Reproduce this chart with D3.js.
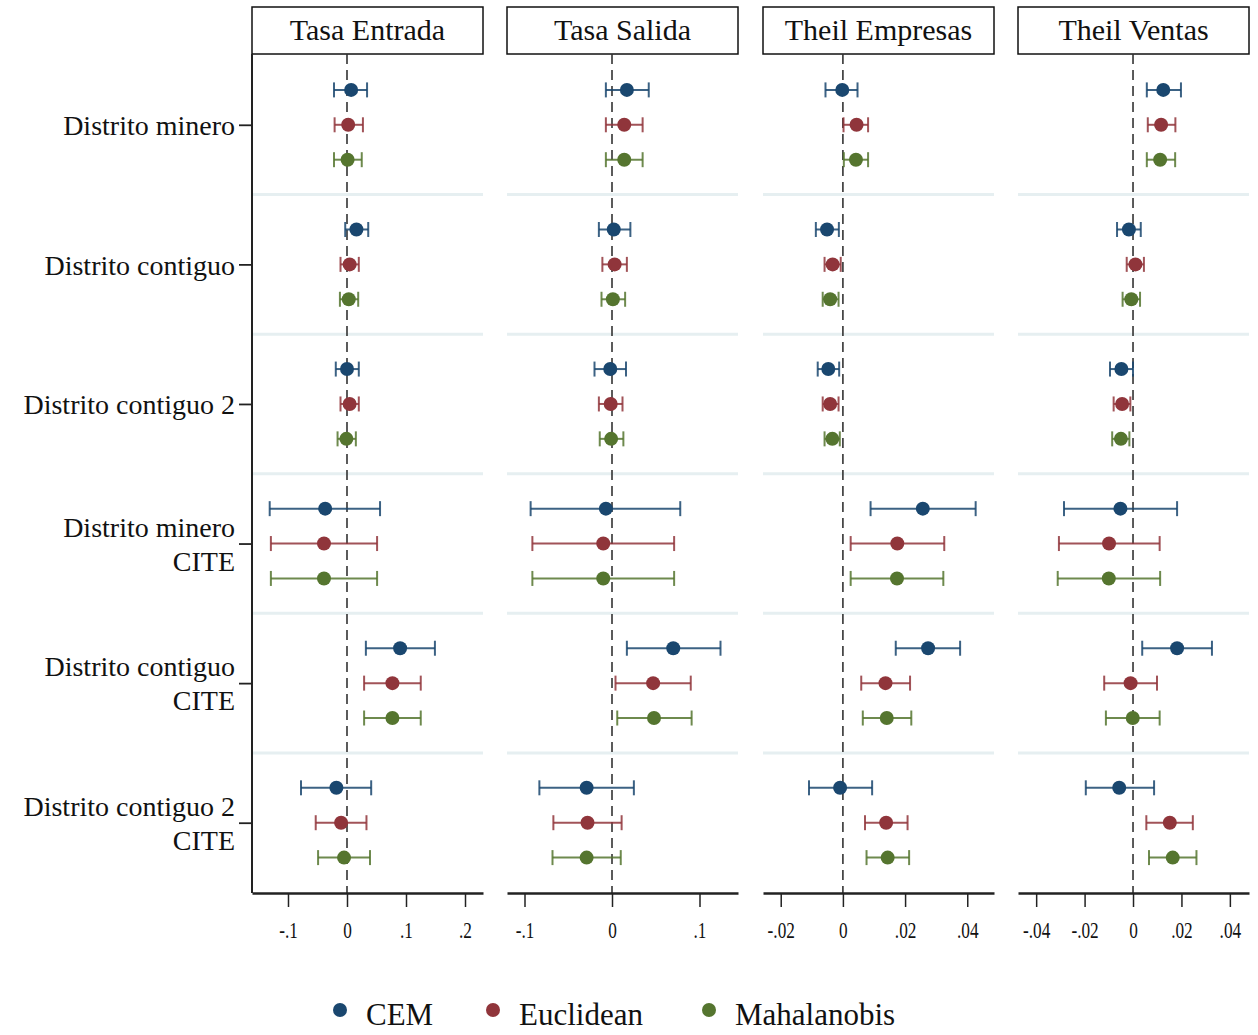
<!DOCTYPE html>
<html lang="es">
<head>
<meta charset="UTF-8">
<script src="https://cdn.jsdelivr.net/npm/d3@7"></script>
<title>Coeficientes</title>
<style>
    body { margin: 0; background: #fff; }
    text { font-family: "Liberation Serif", "Times New Roman", serif; fill: #111; }
</style>
</head>
<body>
<div id="viz"></div>
<script>
// categories
const groups = [
    ["Distrito minero"],
    ["Distrito contiguo"],
    ["Distrito contiguo 2"],
    ["Distrito minero", "CITE"],
    ["Distrito contiguo", "CITE"],
    ["Distrito contiguo 2", "CITE"]
]
const methods = ["CEM", "Euclidean", "Mahalanobis"]
const titles = ["Tasa Entrada", "Tasa Salida", "Theil Empresas", "Theil Ventas"]

// estimates: rows = groups, columns = CEM, Euclidean, Mahalanobis
const entradaEst = [[0.007, 0.002, 0.001], [0.016, 0.0045, 0.003], [0.000, 0.0045, -0.001],
                    [-0.037, -0.039, -0.039], [0.090, 0.077, 0.077], [-0.018, -0.010, -0.005]]
const entradaLo  = [[-0.022, -0.021, -0.022], [-0.003, -0.011, -0.012], [-0.019, -0.011, -0.016],
                    [-0.131, -0.129, -0.129], [0.032, 0.029, 0.029], [-0.078, -0.053, -0.049]]
const entradaHi  = [[0.034, 0.027, 0.025], [0.036, 0.020, 0.019], [0.020, 0.020, 0.015],
                    [0.056, 0.051, 0.051], [0.149, 0.125, 0.125], [0.041, 0.033, 0.039]]

const salidaEst = [[0.017, 0.014, 0.014], [0.002, 0.003, 0.001], [-0.002, -0.0015, -0.001],
                   [-0.007, -0.010, -0.010], [0.070, 0.047, 0.048], [-0.029, -0.028, -0.029]]
const salidaLo  = [[-0.007, -0.007, -0.007], [-0.015, -0.011, -0.012], [-0.020, -0.015, -0.014],
                   [-0.093, -0.091, -0.091], [0.017, 0.004, 0.006], [-0.083, -0.067, -0.068]]
const salidaHi  = [[0.042, 0.035, 0.035], [0.021, 0.017, 0.015], [0.016, 0.012, 0.013],
                   [0.078, 0.071, 0.071], [0.124, 0.090, 0.091], [0.025, 0.011, 0.010]]

const empresasEst = [[-0.0002, 0.0044, 0.0042], [-0.0051, -0.0033, -0.0041], [-0.0047, -0.0041, -0.0034],
                     [0.0257, 0.0175, 0.0174], [0.0274, 0.0137, 0.0141], [-0.0009, 0.0139, 0.0144]]
const empresasLo  = [[-0.0056, 0.0002, 0.0003], [-0.0087, -0.0059, -0.0065], [-0.0081, -0.0065, -0.0059],
                     [0.0089, 0.0025, 0.0025], [0.0170, 0.0059, 0.0064], [-0.0109, 0.0071, 0.0076]]
const empresasHi  = [[0.0047, 0.0081, 0.0081], [-0.0013, -0.0007, -0.0014], [-0.0012, -0.0014, -0.0010],
                     [0.0427, 0.0326, 0.0323], [0.0377, 0.0216, 0.0220], [0.0094, 0.0208, 0.0213]]

const ventasEst = [[0.0125, 0.0116, 0.0112], [-0.0017, 0.0010, -0.0007], [-0.0048, -0.0045, -0.0050],
                   [-0.0052, -0.0099, -0.0100], [0.0182, -0.0010, -0.0001], [-0.0057, 0.0152, 0.0164]]
const ventasLo  = [[0.0057, 0.0061, 0.0057], [-0.0066, -0.0026, -0.0043], [-0.0095, -0.0080, -0.0086],
                   [-0.0285, -0.0306, -0.0311], [0.0038, -0.0119, -0.0112], [-0.0195, 0.0055, 0.0066]]
const ventasHi  = [[0.0198, 0.0175, 0.0174], [0.0032, 0.0045, 0.0029], [0.0000, -0.0011, -0.0015],
                   [0.0182, 0.0110, 0.0112], [0.0326, 0.0099, 0.0110], [0.0087, 0.0247, 0.0262]]

// axis extents and ticks
const domains = [[-0.161, 0.2305], [-0.12, 0.144], [-0.0257, 0.0486], [-0.0475, 0.0479]]
const tickValues = [[-0.1, 0, 0.1, 0.2], [-0.1, 0, 0.1], [-0.02, 0, 0.02, 0.04], [-0.04, -0.02, 0, 0.02, 0.04]]
const tickLabels = [["-.1", "0", ".1", ".2"], ["-.1", "0", ".1"], ["-.02", "0", ".02", ".04"], ["-.04", "-.02", "0", ".02", ".04"]]

const panels = [
    {title: titles[0], est: entradaEst, lo: entradaLo, hi: entradaHi},
    {title: titles[1], est: salidaEst, lo: salidaLo, hi: salidaHi},
    {title: titles[2], est: empresasEst, lo: empresasLo, hi: empresasHi},
    {title: titles[3], est: ventasEst, lo: ventasLo, hi: ventasHi}
]

// layout
const width = 1258
const height = 1035
const panelLeft = [252, 507, 763, 1018]
const panelWidth = 231
const plotTop = 54
const plotBottom = 893
const legendX = [340, 493, 709]

const svg = d3.select("#viz")
    .append("svg")
    .attr("width", width)
    .attr("height", height)

// 4 slots per group: 3 estimates + 1 gap
const yScale = d3.scaleLinear()
    .domain([0, groups.length * 4])
    .range([plotTop + 1, plotBottom - 0.5])
const slot = d => d.gi * 4 + d.mi + 1

const color = d3.scaleOrdinal()
    .domain(methods)
    .range(["#1a476f", "#90353b", "#55752f"])

panels.forEach((p, i) => {
    const x0 = panelLeft[i]
    const x1 = x0 + panelWidth
    const xScale = d3.scaleLinear()
        .domain(domains[i])
        .range([x0, x1])
    const g = svg.append("g")

    // header box
    g.append("rect")
        .attr("x", x0)
        .attr("y", 7)
        .attr("width", panelWidth)
        .attr("height", plotTop - 7)
        .attr("fill", "white")
        .attr("stroke", "#111")
        .attr("stroke-width", 1.5)
    g.append("text")
        .attr("x", (x0 + x1) / 2)
        .attr("y", 40)
        .attr("text-anchor", "middle")
        .attr("font-size", 30)
        .text(p.title)

    // separators between groups
    g.selectAll(".sep")
        .data(d3.range(1, groups.length))
        .join("line")
        .attr("x1", x0)
        .attr("x2", x1)
        .attr("y1", d => yScale(d * 4))
        .attr("y2", d => yScale(d * 4))
        .attr("stroke", "#e6eff1")
        .attr("stroke-width", 3)

    // zero line
    g.append("line")
        .attr("x1", xScale(0))
        .attr("x2", xScale(0))
        .attr("y1", plotTop)
        .attr("y2", plotBottom)
        .attr("stroke", "#333")
        .attr("stroke-width", 1.6)
        .attr("stroke-dasharray", "10,6")

    // x axis
    const ticks = tickValues[i]
    const labels = tickLabels[i]
    const xAxis = g.append("g")
        .attr("transform", `translate(0,${plotBottom})`)
        .call(d3.axisBottom(xScale)
            .tickValues(ticks)
            .tickFormat(d => labels[ticks.indexOf(d)])
            .tickSize(14)
            .tickSizeOuter(0)
            .tickPadding(15))
    xAxis.select(".domain")
        .attr("stroke", "#222")
        .attr("stroke-width", 2.5)
    xAxis.selectAll(".tick line")
        .attr("stroke", "#222")
        .attr("stroke-width", 1.5)
    xAxis.selectAll(".tick text")
        .attr("font-size", 23)
        .attr("transform", "scale(0.75,1)")

    const rows = p.est.flatMap((r, gi) => r.map((v, mi) => ({
        gi, mi, est: v, lo: p.lo[gi][mi], hi: p.hi[gi][mi]
    })))

    // confidence intervals
    g.selectAll(".ci")
        .data(rows)
        .join("line")
        .attr("x1", d => xScale(d.lo))
        .attr("x2", d => xScale(d.hi))
        .attr("y1", d => yScale(slot(d)))
        .attr("y2", d => yScale(slot(d)))
        .attr("stroke", d => color(methods[d.mi]))
        .attr("stroke-opacity", 0.85)
        .attr("stroke-width", 2)

    const caps = rows.flatMap(d => [{...d, v: d.lo}, {...d, v: d.hi}])
    g.selectAll(".cap")
        .data(caps)
        .join("line")
        .attr("x1", d => xScale(d.v))
        .attr("x2", d => xScale(d.v))
        .attr("y1", d => yScale(slot(d)) - 7.5)
        .attr("y2", d => yScale(slot(d)) + 7.5)
        .attr("stroke", d => color(methods[d.mi]))
        .attr("stroke-opacity", 0.85)
        .attr("stroke-width", 2)

    // estimates
    g.selectAll(".dot")
        .data(rows)
        .join("circle")
        .attr("cx", d => xScale(d.est))
        .attr("cy", d => yScale(slot(d)))
        .attr("r", 7)
        .attr("fill", d => color(methods[d.mi]))
})

// y axis on first panel
const yAxis = svg.append("g")
    .attr("transform", `translate(${panelLeft[0]},0)`)
    .call(d3.axisLeft(yScale)
        .tickValues(groups.map((d, i) => i * 4 + 2))
        .tickSize(13)
        .tickSizeOuter(0)
        .tickFormat(""))
yAxis.select(".domain")
    .attr("stroke", "#222")
    .attr("stroke-width", 2)
    .attr("d", `M0,${plotTop}V${plotBottom}`)
yAxis.selectAll(".tick line")
    .attr("stroke", "#222")
    .attr("stroke-width", 1.8)
yAxis.selectAll(".tick text").remove()
yAxis.selectAll(".tick").each(function(d) {
    const lines = groups[(d - 2) / 4]
    const t = d3.select(this).append("text")
        .attr("text-anchor", "end")
        .attr("font-size", 28)
    lines.forEach((s, k) => {
        t.append("tspan")
            .attr("x", -17)
            .attr("y", (k - (lines.length - 1) / 2) * 34)
            .attr("dy", "0.35em")
            .text(s)
    })
})

// legend
const legend = svg.append("g")
legend.selectAll("circle")
    .data(methods)
    .join("circle")
    .attr("cx", (d, i) => legendX[i])
    .attr("cy", 1010)
    .attr("r", 7)
    .attr("fill", d => color(d))
legend.selectAll("text")
    .data(methods)
    .join("text")
    .attr("x", (d, i) => legendX[i] + 26)
    .attr("y", 1025)
    .attr("font-size", 31)
    .text(d => d)
</script>
</body>
</html>
